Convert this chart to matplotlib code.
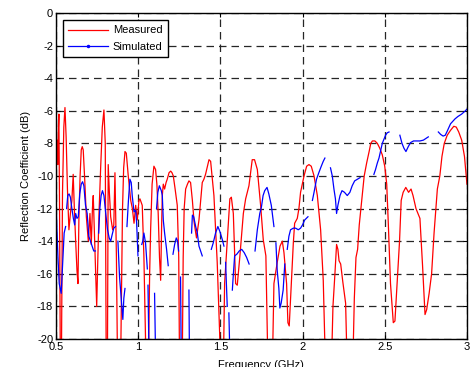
import numpy as np
import matplotlib
matplotlib.use("Agg")
import matplotlib.pyplot as plt
from matplotlib.lines import Line2D

plt.rcParams['font.family'] = ['Liberation Sans', 'DejaVu Sans']
plt.rcParams['axes.unicode_minus'] = False

nan = np.nan

# measured reflection coefficient (GHz, dB), values below -20 run off the axis
meas_freq = [0.500, 0.502, 0.505, 0.508, 0.511, 0.515, 0.518, 0.522, 0.527, 0.533,
             0.540, 0.548, 0.555, 0.562, 0.570, 0.579, 0.589, 0.597, 0.605, 0.612,
             0.620, 0.628, 0.634, 0.640, 0.647, 0.654, 0.660, 0.666, 0.675, 0.685,
             0.697, 0.707, 0.715, 0.722, 0.727, 0.737, 0.748, 0.755, 0.762, 0.772,
             0.782, 0.792, 0.800, 0.806, 0.813, 0.818, 0.825, 0.833, 0.845, 0.852,
             0.859, 0.868, 0.875, 0.893, 0.905, 0.912, 0.920, 0.928, 0.940, 0.955,
             0.965, 0.975, 0.985, 0.995, 1.005, 1.011, 1.025, 1.035, 1.045, 1.050,
             1.062, 1.070, 1.076, 1.085, 1.096, 1.106, 1.114, 1.122, 1.130, 1.137,
             1.143, 1.147, 1.153, 1.161, 1.170, 1.177, 1.188, 1.198, 1.206, 1.214,
             1.225, 1.238, 1.247, 1.252, 1.268, 1.274, 1.280, 1.289, 1.300, 1.309,
             1.319, 1.330, 1.340, 1.355, 1.370, 1.390, 1.400, 1.410, 1.431, 1.441,
             1.461, 1.481, 1.497, 1.502, 1.518, 1.526, 1.542, 1.558, 1.567, 1.579,
             1.593, 1.603, 1.619, 1.640, 1.654, 1.674, 1.694, 1.708, 1.725, 1.745,
             1.761, 1.777, 1.790, 1.816, 1.826, 1.846, 1.863, 1.877, 1.887, 1.903,
             1.911, 1.919, 1.932, 1.944, 1.952, 1.968, 1.978, 1.988, 2.009, 2.025,
             2.039, 2.053, 2.070, 2.090, 2.110, 2.126, 2.140, 2.175, 2.185, 2.197,
             2.207, 2.215, 2.222, 2.232, 2.245, 2.262, 2.272, 2.305, 2.315, 2.325,
             2.335, 2.345, 2.355, 2.363, 2.375, 2.390, 2.405, 2.415, 2.425, 2.440,
             2.455, 2.470, 2.485, 2.500, 2.512, 2.522, 2.535, 2.552, 2.562, 2.575,
             2.590, 2.600, 2.612, 2.628, 2.645, 2.660, 2.672, 2.690, 2.714, 2.730,
             2.745, 2.755, 2.770, 2.785, 2.800, 2.820, 2.835, 2.848, 2.862, 2.880,
             2.900, 2.920, 2.935, 2.950, 2.968, 2.985, 3.000]
meas_db = [-9.0, -7.7, -8.8, -7.8, -9.3, -7.0, -6.2, -12.0, -22.0, -22.0,
           -11.0, -7.0, -5.8, -7.6, -10.8, -13.3, -12.2, -11.5, -9.9, -12.0,
           -14.0, -15.8, -16.6, -12.5, -10.0, -8.4, -8.2, -8.4, -10.2, -12.5,
           -14.0, -12.3, -14.2, -12.0, -11.2, -14.5, -18.0, -15.0, -12.3, -9.5,
           -7.0, -5.95, -8.0, -22.0, -22.0, -9.3, -11.0, -12.5, -13.3, -13.0,
           -9.8, -15.0, -22.0, -22.0, -12.0, -9.5, -8.5, -8.6, -10.0, -11.5,
           -12.0, -12.9, -11.8, -12.7, -11.5, -11.4, -11.8, -14.9, -20.0, -22.0,
           -22.0, -16.0, -13.3, -10.5, -9.4, -9.6, -10.5, -12.3, -15.0, -16.4,
           -13.0, -11.2, -10.5, -10.8, -10.4, -10.2, -9.8, -9.7, -9.8, -10.0,
           -10.8, -11.8, -15.0, -22.0, -22.0, -15.0, -12.0, -10.8, -10.5, -10.3,
           -10.4, -11.5, -12.8, -13.8, -12.7, -10.4, -10.2, -9.9, -9.0, -9.1,
           -11.2, -15.3, -20.0, -22.0, -22.0, -16.6, -14.0, -11.4, -11.3, -12.3,
           -16.6, -16.7, -14.9, -12.3, -11.4, -10.6, -9.0, -9.0, -9.6, -11.8,
           -13.9, -14.9, -22.0, -22.0, -16.6, -15.3, -14.3, -14.0, -14.7, -16.6,
           -19.0, -19.2, -16.6, -14.1, -12.9, -12.6, -12.0, -11.0, -10.0, -9.4,
           -9.3, -9.4, -10.0, -11.2, -13.3, -16.4, -22.0, -22.0, -18.0, -16.0,
           -14.2, -14.5, -15.2, -15.4, -16.5, -17.8, -22.0, -22.0, -17.5, -15.0,
           -14.5, -13.0, -12.0, -11.2, -10.0, -9.2, -8.5, -8.0, -7.85, -7.85,
           -8.0, -8.3, -8.7, -9.4, -10.5, -13.0, -16.6, -19.0, -18.9, -16.6,
           -14.0, -11.5, -11.0, -10.7, -11.0, -10.8, -11.2, -12.0, -12.6, -15.5,
           -18.5, -18.2, -17.2, -16.0, -13.5, -10.8, -10.0, -8.8, -8.0, -7.5,
           -7.2, -6.95, -7.0, -7.3, -7.8, -8.8, -10.5]

# simulated reflection coefficient, nan marks the breaks in the trace
sim_freq = [0.500, 0.505, 0.512, 0.520, 0.532, 0.540, 0.550, 0.559, nan,
            0.565, 0.572, 0.580, 0.588, 0.597, 0.606, 0.614, 0.620, 0.628, 0.636,
            0.645, 0.654, 0.662, 0.670, 0.680, 0.690, 0.700, 0.710, 0.720, 0.730,
            0.740, nan,
            0.760, 0.767, 0.775, 0.783, 0.792, 0.804, 0.814, 0.824, 0.833, 0.842,
            0.852, 0.862, nan,
            0.877, 0.887, 0.897, 0.907, 0.913, 0.920, nan,
            0.932, 0.941, 0.950, 0.958, 0.964, 0.975, 0.985, 0.991, 0.999, nan,
            1.022, 1.028, 1.035, 1.045, 1.056, nan,
            1.060, 1.066, nan,
            1.100, 1.106, nan,
            1.112, 1.120, 1.129, 1.141, 1.147, 1.153, 1.161, 1.173, 1.183, nan,
            1.212, 1.222, 1.232, 1.240, 1.246, nan,
            1.258, 1.262, nan,
            1.309, 1.312, nan,
            1.325, 1.330, 1.338, 1.350, 1.360, 1.370, 1.380, 1.390, nan,
            1.445, 1.457, 1.471, 1.485, 1.497, 1.512, 1.522, nan,
            1.532, 1.542, nan,
            1.552, 1.558, nan,
            1.573, 1.578, 1.587, 1.600, 1.615, 1.630, 1.645, 1.660, 1.675, nan,
            1.711, 1.725, 1.740, 1.750, 1.760, 1.770, 1.784, 1.795, 1.810, 1.826, nan,
            1.838, 1.846, 1.856, 1.862, 1.870, 1.882, 1.892, nan,
            1.907, 1.917, 1.927, 1.944, 1.958, 1.974, 1.988, 2.000, 2.013, 2.033, nan,
            2.060, 2.070, 2.085, 2.099, 2.114, 2.126, 2.136, nan,
            2.170, 2.181, 2.191, 2.200, 2.207, 2.215, 2.228, 2.240, 2.255, 2.272,
            2.288, 2.302, 2.317, 2.333, 2.350, nan,
            2.434, 2.444, 2.455, 2.465, 2.475, 2.485, 2.495, 2.505, 2.515, 2.526, nan,
            2.592, 2.605, 2.617, 2.629, 2.643, 2.657, 2.675, 2.695, 2.714, 2.735,
            2.750, 2.765, nan,
            2.826, 2.840, 2.855, 2.868, 2.880, 2.900, 2.927, 2.945, 2.968, 2.985, 3.000]
sim_db = [-11.0, -13.0, -14.9, -16.6, -17.2, -15.5, -13.5, -13.1, nan,
          -12.0, -11.2, -11.1, -11.3, -12.0, -12.6, -13.0, -12.3, -12.6, -12.5,
          -11.1, -10.5, -10.35, -10.6, -11.8, -12.3, -13.7, -14.0, -14.3, -14.6,
          -14.6, nan,
          -13.5, -12.0, -11.2, -10.9, -11.2, -12.4, -13.3, -13.8, -14.0, -13.6,
          -13.2, -13.1, nan,
          -14.0, -16.2, -17.5, -18.8, -17.5, -16.9, nan,
          -13.1, -11.5, -10.2, -10.4, -11.2, -12.2, -12.1, -12.9, -14.9, nan,
          -14.2, -14.0, -13.5, -14.1, -15.7, nan,
          -16.7, -21.0, nan,
          -17.2, -21.0, nan,
          -12.0, -11.0, -10.6, -10.9, -11.2, -12.7, -13.5, -14.5, -15.5, nan,
          -14.8, -14.2, -13.8, -14.0, -14.6, nan,
          -16.2, -21.0, nan,
          -17.0, -21.0, nan,
          -13.5, -12.4, -12.5, -13.1, -13.5, -14.3, -14.6, -14.9, nan,
          -14.5, -14.1, -13.5, -13.1, -13.4, -13.9, -14.3, nan,
          -15.3, -18.0, nan,
          -18.4, -21.0, nan,
          -17.0, -16.2, -14.9, -14.8, -14.6, -14.5, -14.7, -15.0, -15.4, nan,
          -14.6, -13.3, -12.3, -11.9, -11.2, -10.9, -10.7, -11.1, -11.8, -13.1, nan,
          -14.1, -15.8, -16.9, -18.1, -17.8, -17.0, -15.4, nan,
          -14.5, -13.7, -13.3, -13.2, -13.2, -13.3, -13.2, -13.0, -12.7, -12.5, nan,
          -11.5, -11.0, -10.2, -9.8, -9.4, -9.1, -8.9, nan,
          -9.5, -10.0, -10.8, -11.4, -12.3, -11.8, -11.2, -10.9, -11.0, -11.2,
          -11.0, -10.6, -10.3, -10.2, -10.1, nan,
          -9.9, -9.6, -9.2, -8.9, -8.45, -8.0, -7.75, -7.5, -7.35, -7.3, nan,
          -7.5, -8.0, -8.3, -8.5, -8.2, -7.95, -7.85, -7.85, -7.85, -7.8,
          -7.7, -7.6, nan,
          -7.3, -7.45, -7.55, -7.5, -7.25, -6.8, -6.5, -6.35, -6.2, -6.05, -5.9]

x_ticks = [0.5, 1, 1.5, 2, 2.5, 3]
x_labels = ['0.5', '1', '1.5', '2', '2.5', '3']
y_ticks = list(range(-20, 1, 2))

fig = plt.figure(figsize=(4.70, 3.67), dpi=100)
ax = fig.add_axes([0.119, 0.0763, 0.8745, 0.8883])

ax.plot(meas_freq, meas_db, color='#ff0000', lw=0.9)
ax.plot(sim_freq, sim_db, color='#0000ff', lw=0.9)

ax.set_xlim(0.5, 3)
ax.set_ylim(-20, 0)
ax.set_xticks(x_ticks)
ax.set_xticklabels(x_labels)
ax.set_yticks(y_ticks)
ax.grid(True, color='0.15', linestyle=(0, (6, 4)), lw=0.9)
ax.tick_params(direction='in', length=3, labelsize=8, top=True, right=True, pad=2)
for s in ax.spines.values():
    s.set_linewidth(1.0)
    s.set_color('black')

ax.set_xlabel('Frequency (GHz)', fontsize=8, labelpad=6)
ax.set_ylabel('Reflection Coefficient (dB)', fontsize=8, labelpad=4)

handles = [Line2D([], [], color='#ff0000', lw=0.9),
           Line2D([], [], color='#0000ff', lw=0.9, marker='.', markersize=3)]
leg = ax.legend(handles, ['Measured', 'Simulated'], loc='upper left',
                bbox_to_anchor=(0.017, 0.979), borderaxespad=0, fontsize=8,
                handlelength=3.6, handletextpad=0.4, labelspacing=0.55,
                fancybox=False, framealpha=1, edgecolor='black',
                borderpad=0.5)
leg.get_frame().set_linewidth(1.0)

fig.savefig('out.png', dpi=100)
